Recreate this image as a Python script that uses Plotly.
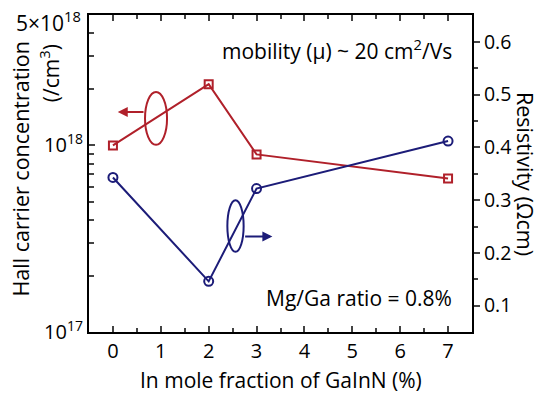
import plotly.graph_objects as go

x_in = [0, 2, 3, 7]
hall_conc = [1.0e18, 2.13e18, 0.895e18, 0.665e18]
resistivity = [0.343, 0.146, 0.322, 0.412]

left_tickvals = [1e17, 1e18, 5e18]
left_ticktext = ["10<sup>17</sup>", "10<sup>18</sup>", ""]
top_label = "5×10<sup>18</sup>"
left_minor = [2e17, 3e17, 4e17, 5e17, 6e17, 7e17, 8e17, 9e17, 2e18, 3e18, 4e18]
x_ticks = [0, 1, 2, 3, 4, 5, 6, 7]

RED = "#b0202a"
BLUE = "#1c1c78"
FONT = "Open Sans"

fig = go.Figure()
fig.add_trace(go.Scatter(
    x=x_in, y=hall_conc, mode="lines+markers", yaxis="y",
    line=dict(color=RED, width=2),
    marker=dict(symbol="square-open", size=8, color=RED, line=dict(width=2)),
    showlegend=False))
fig.add_trace(go.Scatter(
    x=x_in, y=resistivity, mode="lines+markers", yaxis="y2",
    line=dict(color=BLUE, width=2),
    marker=dict(symbol="circle-open", size=9, color=BLUE, line=dict(width=2)),
    showlegend=False))

fig.update_layout(
    width=539, height=393,
    margin=dict(l=89, r=67, t=15, b=61),
    paper_bgcolor="white", plot_bgcolor="white",
    font=dict(family=FONT, size=20, color="black"),
    xaxis=dict(
        range=[-0.5, 7.5], tickvals=x_ticks, ticks="inside", ticklen=6, tickwidth=1.5,
        showline=True, linecolor="black", linewidth=2, mirror="ticks",
        showgrid=False, zeroline=False, tickfont=dict(size=20),
        minor=dict(tickvals=[i + 0.5 for i in range(-1, 8)], ticks="inside", ticklen=4, tickwidth=1.5),
    ),
    yaxis=dict(
        type="log", range=[17, 18.6992], tickvals=left_tickvals, ticktext=left_ticktext,
        ticks="inside", ticklen=6, tickwidth=1.5, tickfont=dict(size=20),
        showline=True, linecolor="black", linewidth=2,
        showgrid=False, zeroline=False,
        minor=dict(tickvals=left_minor, ticks="inside", ticklen=5, tickwidth=1.5),
    ),
    yaxis2=dict(
        overlaying="y", side="right", range=[0.05, 0.651],
        tickvals=[0.1, 0.2, 0.3, 0.4, 0.5, 0.6], ticktext=["0.1", "0.2", "0.3", "0.4", "0.5", "0.6"],
        ticks="outside", ticklen=6, tickwidth=1.5, tickfont=dict(size=19.5),
        showline=True, linecolor="black", linewidth=2,
        showgrid=False, zeroline=False,
        minor=dict(tickvals=[0.15, 0.25, 0.35, 0.45, 0.55], ticks="outside", ticklen=4, tickwidth=1.5),
    ),
)

# Top tick label of the log axis
fig.add_annotation(text=top_label, xref="paper", yref="paper",
                   x=-0.016, y=0.978, xanchor="right", yanchor="middle",
                   showarrow=False, font=dict(size=21))

# Axis titles as annotations
fig.add_annotation(text="In mole fraction of GaInN (%)", xref="paper", yref="paper",
                   x=0.5, y=-0.150, xanchor="center", yanchor="middle",
                   showarrow=False, font=dict(size=21))
fig.add_annotation(text="Hall carrier concentration", xref="paper", yref="paper",
                   x=-0.178, y=0.515, xanchor="center", yanchor="middle", textangle=-90,
                   showarrow=False, font=dict(size=21.5))
fig.add_annotation(text="(/cm<sup>3</sup>)", xref="paper", yref="paper",
                   x=-0.104, y=0.817, xanchor="center", yanchor="middle", textangle=-90,
                   showarrow=False, font=dict(size=21))
fig.add_annotation(text="Resistivity (Ωcm)", xref="paper", yref="paper",
                   x=1.14, y=0.5, xanchor="center", yanchor="middle", textangle=90,
                   showarrow=False, font=dict(size=21.5))

fig.add_annotation(text="mobility (μ) ~ 20 cm<sup>2</sup>/Vs", xref="x", yref="y2",
                   x=7.13, y=0.585, xanchor="right", yanchor="middle",
                   showarrow=False, font=dict(size=21))
fig.add_annotation(text="Mg/Ga ratio = 0.8%", xref="x", yref="y2",
                   x=7.13, y=0.115, xanchor="right", yanchor="middle",
                   showarrow=False, font=dict(size=21))

# Ellipses with arrows
fig.add_shape(type="circle", xref="x", yref="y2", x0=0.67, x1=1.13, y0=0.405, y1=0.505,
              line=dict(color=RED, width=2))
fig.add_annotation(xref="x", yref="y2", axref="x", ayref="y2",
                   x=0.10, y=0.467, ax=0.67, ay=0.467, text="", showarrow=True,
                   arrowhead=2, arrowsize=1, arrowwidth=2, arrowcolor=RED)
fig.add_shape(type="circle", xref="x", yref="y2", x0=2.39, x1=2.73, y0=0.202, y1=0.30,
              line=dict(color=BLUE, width=2))
fig.add_annotation(xref="x", yref="y2", axref="x", ayref="y2",
                   x=3.33, y=0.231, ax=2.73, ay=0.231, text="", showarrow=True,
                   arrowhead=2, arrowsize=1, arrowwidth=2, arrowcolor=BLUE)

fig.write_html("out.html")
